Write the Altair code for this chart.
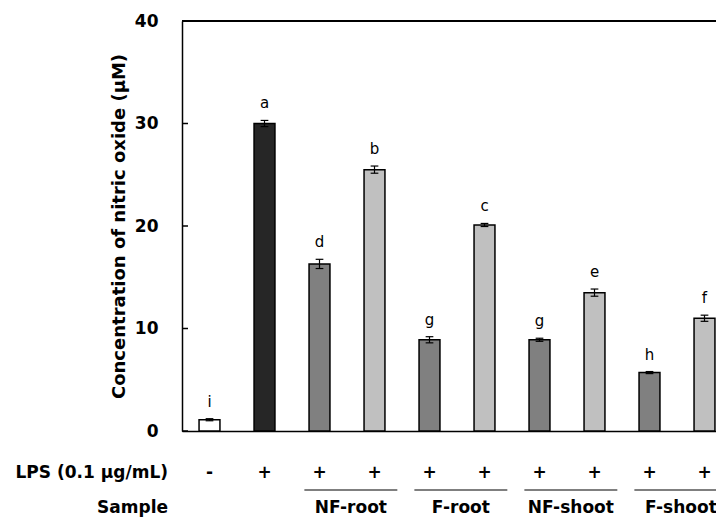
import altair as alt
import pandas as pd

# ---- data ----
samples = ["Control", "LPS", "NF-root-1", "NF-root-2", "F-root-1", "F-root-2",
           "NF-shoot-1", "NF-shoot-2", "F-shoot-1", "F-shoot-2"]
values = [1.1, 30.0, 16.3, 25.5, 8.9, 20.1, 8.9, 13.5, 5.7, 11.0]
errors = [0.1, 0.3, 0.45, 0.35, 0.3, 0.15, 0.15, 0.35, 0.1, 0.3]
letters = ["i", "a", "d", "b", "g", "c", "g", "e", "h", "f"]
kinds = ["none", "lps", "low", "high", "low", "high", "low", "high", "low", "high"]
lps_marks = ["-", "+", "+", "+", "+", "+", "+", "+", "+", "+"]
groups = ["NF-root", "F-root", "NF-shoot", "F-shoot"]
group_first_bar = [2, 4, 6, 8]
y_ticks = [0, 10, 20, 30, 40]

# ---- layout ----
W = 534
H = 410
STEP = 55.0
XMAX = W / STEP
BAR_HALF = 0.19
CAP_HALF = 0.07

font = "DejaVu Sans"

pos = [i + 0.5 for i in range(len(samples))]
df = pd.DataFrame({
    "sample": samples, "value": values, "err": errors, "letter": letters,
    "kind": kinds, "pos": pos, "lps": lps_marks,
})
df["xl"] = df["pos"] - BAR_HALF
df["xr"] = df["pos"] + BAR_HALF
df["lo"] = df["value"] - df["err"]
df["hi"] = df["value"] + df["err"]
df["cl"] = df["pos"] - CAP_HALF
df["cr"] = df["pos"] + CAP_HALF

gdf = pd.DataFrame({"group": groups, "first": group_first_bar})
gdf["center"] = gdf["first"] + 1.0 + 0.07
gdf["l"] = gdf["center"] - 0.845
gdf["r"] = gdf["center"] + 0.845

xscale = alt.Scale(domain=[0, XMAX], nice=False, zero=False)
yscale = alt.Scale(domain=[0, 40], nice=False)

color_scale = alt.Scale(domain=["none", "lps", "low", "high"],
                        range=["#ffffff", "#262626", "#808080", "#c0c0c0"])

base = alt.Chart(df)

bars = base.mark_bar(stroke="black", strokeWidth=1.5).encode(
    x=alt.X("xl:Q", scale=xscale,
            axis=alt.Axis(labels=False, ticks=False, title=None, grid=False,
                          domainColor="black", domainWidth=1.5)),
    x2="xr:Q",
    y=alt.Y("value:Q", scale=yscale,
            axis=alt.Axis(values=y_ticks, title="Concentration of nitric oxide (μM)",
                          grid=False, ticks=False, labelPadding=24,
                          labelFont=font, labelFontSize=17, labelFontWeight="bold",
                          labelColor="black", titleFont=font, titleFontSize=18,
                          titleFontWeight="bold", titleColor="black", titlePadding=6,
                          domainColor="black", domainWidth=1.5)),
    y2=alt.datum(0),
    fill=alt.Fill("kind:N", scale=color_scale, legend=None),
)

err_rule = base.mark_rule(color="black", strokeWidth=1.2).encode(
    x=alt.X("pos:Q", scale=xscale), y="lo:Q", y2="hi:Q")
cap_top = base.mark_rule(color="black", strokeWidth=1.2).encode(
    x=alt.X("cl:Q", scale=xscale), x2="cr:Q", y="hi:Q")
cap_bot = base.mark_rule(color="black", strokeWidth=1.2).encode(
    x=alt.X("cl:Q", scale=xscale), x2="cr:Q", y="lo:Q")

letter_text = base.mark_text(baseline="bottom", dy=-9, font=font, fontSize=15,
                             color="black").encode(
    x=alt.X("pos:Q", scale=xscale), y="hi:Q", text="letter:N")

tick_df = pd.DataFrame({"t": y_ticks})
inner_ticks = alt.Chart(tick_df).mark_rule(color="black", strokeWidth=1.5).encode(
    y=alt.Y("t:Q", scale=yscale), x=alt.value(0), x2=alt.value(6))

top_line = alt.Chart(tick_df).mark_rule(color="black", strokeWidth=1.5).encode(
    y=alt.value(0), x=alt.value(0), x2=alt.value(W))

lps_text = base.mark_text(font=font, fontSize=17, fontWeight="bold", color="black",
                          baseline="middle").encode(
    x=alt.X("pos:Q", scale=xscale), y=alt.value(452), text="lps:N")

group_lines = alt.Chart(gdf).mark_rule(color="#555555", strokeWidth=1.3).encode(
    x=alt.X("l:Q", scale=xscale), x2="r:Q", y=alt.value(469))

group_text = alt.Chart(gdf).mark_text(font=font, fontSize=17, fontWeight="bold",
                                      color="black", baseline="middle").encode(
    x=alt.X("center:Q", scale=xscale), y=alt.value(487), text="group:N")

row_df = pd.DataFrame({"label": ["LPS (0.1 μg/mL)", "Sample"], "ypix": [452, 487]})
row_text = alt.Chart(row_df).mark_text(font=font, fontSize=17, fontWeight="bold",
                                       color="black", align="right",
                                       baseline="middle").encode(
    x=alt.value(-14), y=alt.Y("ypix:Q", scale=None), text="label:N")

chart = alt.layer(
    bars, err_rule, cap_top, cap_bot, letter_text, inner_ticks, top_line,
    lps_text, group_lines, group_text, row_text,
).properties(
    width=W, height=H,
    autosize=alt.AutoSizeParams(type="none"),
    padding={"left": 174, "top": 13, "right": 0, "bottom": 91},
).configure_view(stroke=None).configure(background="white")

chart.save("out.html", embed_options={"renderer": "svg", "actions": False})
